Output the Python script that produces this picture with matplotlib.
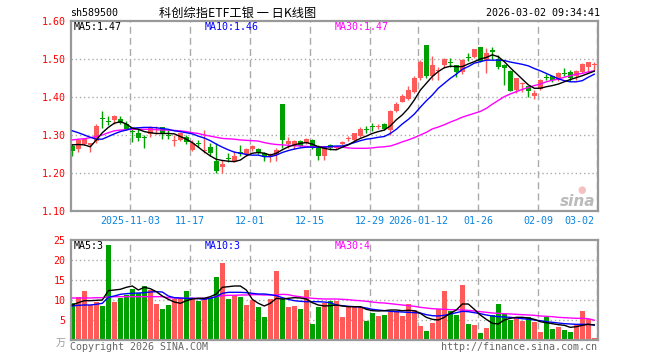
import matplotlib
matplotlib.use("Agg")
import matplotlib.pyplot as plt
import numpy as np

# ---------------- data ----------------
dates = [
    "2025-10-20", "2025-10-21", "2025-10-22", "2025-10-23", "2025-10-24", "2025-10-27", "2025-10-28", "2025-10-29", "2025-10-30", "2025-10-31",
    "2025-11-03", "2025-11-04", "2025-11-05", "2025-11-06", "2025-11-07", "2025-11-10", "2025-11-11", "2025-11-12", "2025-11-13", "2025-11-14",
    "2025-11-17", "2025-11-18", "2025-11-19", "2025-11-20", "2025-11-21", "2025-11-24", "2025-11-25", "2025-11-26", "2025-11-27", "2025-11-28",
    "2025-12-01", "2025-12-02", "2025-12-03", "2025-12-04", "2025-12-05", "2025-12-08", "2025-12-09", "2025-12-10", "2025-12-11", "2025-12-12",
    "2025-12-15", "2025-12-16", "2025-12-17", "2025-12-18", "2025-12-19", "2025-12-22", "2025-12-23", "2025-12-24", "2025-12-25", "2025-12-26",
    "2025-12-29", "2025-12-30", "2025-12-31", "2026-01-05", "2026-01-06", "2026-01-07", "2026-01-08", "2026-01-09",
    "2026-01-12", "2026-01-13", "2026-01-14", "2026-01-15", "2026-01-16", "2026-01-19", "2026-01-20", "2026-01-21", "2026-01-22", "2026-01-23",
    "2026-01-26", "2026-01-27", "2026-01-28", "2026-01-29", "2026-01-30", "2026-02-02", "2026-02-03", "2026-02-04", "2026-02-05", "2026-02-06",
    "2026-02-09", "2026-02-10", "2026-02-11", "2026-02-12", "2026-02-13", "2026-02-24", "2026-02-25", "2026-02-26", "2026-02-27", "2026-03-02",
]

open_ = [1.270, 1.263, 1.277, 1.275, 1.283, 1.343, 1.338, 1.340, 1.343, 1.328,
         1.311, 1.306, 1.293, 1.302, 1.312, 1.321, 1.300, 1.285, 1.288, 1.294,
         1.261, 1.279, 1.259, 1.268, 1.231, 1.215, 1.240, 1.232, 1.255, 1.248,
         1.263, 1.264, 1.253, 1.241, 1.248, 1.382, 1.277, 1.275, 1.284, 1.278,
         1.288, 1.266, 1.246, 1.275, 1.266, 1.276, 1.289, 1.287, 1.297, 1.315,
         1.322, 1.322, 1.329, 1.312, 1.364, 1.388, 1.395, 1.412,
         1.450, 1.537, 1.454, 1.468, 1.485, 1.490, 1.483, 1.466, 1.503, 1.505,
         1.531, 1.497, 1.524, 1.500, 1.485, 1.469, 1.418, 1.434, 1.428, 1.403,
         1.421, 1.452, 1.454, 1.444, 1.461, 1.466, 1.454, 1.466, 1.480, 1.484]
high = [1.277, 1.290, 1.291, 1.280, 1.328, 1.364, 1.350, 1.352, 1.351, 1.338,
        1.315, 1.316, 1.300, 1.324, 1.323, 1.321, 1.314, 1.299, 1.307, 1.301,
        1.287, 1.287, 1.314, 1.279, 1.280, 1.233, 1.252, 1.258, 1.275, 1.265,
        1.274, 1.266, 1.256, 1.253, 1.266, 1.382, 1.294, 1.287, 1.286, 1.293,
        1.289, 1.273, 1.272, 1.277, 1.272, 1.284, 1.297, 1.306, 1.320, 1.323,
        1.331, 1.330, 1.331, 1.366, 1.386, 1.407, 1.428, 1.454,
        1.497, 1.537, 1.507, 1.480, 1.503, 1.502, 1.485, 1.500, 1.517, 1.527,
        1.531, 1.530, 1.532, 1.510, 1.487, 1.470, 1.451, 1.440, 1.430, 1.418,
        1.448, 1.461, 1.456, 1.466, 1.476, 1.472, 1.472, 1.490, 1.492, 1.492]
low = [1.244, 1.256, 1.275, 1.254, 1.279, 1.319, 1.326, 1.329, 1.328, 1.313,
       1.282, 1.283, 1.265, 1.296, 1.302, 1.289, 1.290, 1.270, 1.285, 1.276,
       1.259, 1.268, 1.253, 1.246, 1.200, 1.200, 1.230, 1.230, 1.245, 1.246,
       1.257, 1.251, 1.232, 1.228, 1.232, 1.265, 1.267, 1.264, 1.268, 1.276,
       1.263, 1.234, 1.234, 1.261, 1.262, 1.274, 1.283, 1.285, 1.295, 1.304,
       1.311, 1.315, 1.313, 1.300, 1.360, 1.386, 1.392, 1.410,
       1.446, 1.450, 1.446, 1.445, 1.476, 1.478, 1.452, 1.460, 1.495, 1.503,
       1.493, 1.464, 1.500, 1.475, 1.432, 1.415, 1.410, 1.412, 1.399, 1.395,
       1.418, 1.446, 1.440, 1.441, 1.454, 1.443, 1.444, 1.464, 1.466, 1.472]
close = [1.257, 1.288, 1.289, 1.279, 1.324, 1.342, 1.333, 1.351, 1.332, 1.317,
         1.309, 1.291, 1.291, 1.320, 1.316, 1.305, 1.298, 1.287, 1.305, 1.281,
         1.278, 1.277, 1.261, 1.253, 1.204, 1.223, 1.238, 1.246, 1.249, 1.263,
         1.270, 1.253, 1.241, 1.250, 1.261, 1.288, 1.285, 1.285, 1.272, 1.290,
         1.266, 1.244, 1.272, 1.267, 1.268, 1.282, 1.291, 1.304, 1.317, 1.313,
         1.321, 1.324, 1.316, 1.363, 1.382, 1.403, 1.419, 1.450,
         1.491, 1.454, 1.485, 1.470, 1.500, 1.489, 1.465, 1.498, 1.502, 1.526,
         1.495, 1.515, 1.518, 1.478, 1.476, 1.417, 1.449, 1.436, 1.415, 1.411,
         1.445, 1.451, 1.445, 1.463, 1.460, 1.450, 1.468, 1.488, 1.491, 1.486]

ma5 = [1.274, 1.275, 1.274, 1.269, 1.287, 1.306, 1.320, 1.331, 1.335, 1.329,
       1.318, 1.315, 1.309, 1.306, 1.304, 1.304, 1.304, 1.303, 1.296, 1.289,
       1.280, 1.268, 1.256, 1.245, 1.236, 1.233, 1.231, 1.230, 1.234, 1.245,
       1.252, 1.254, 1.252, 1.247, 1.252, 1.261, 1.269, 1.274, 1.278, 1.280,
       1.276, 1.269, 1.265, 1.262, 1.261, 1.268, 1.274, 1.283, 1.291, 1.297,
       1.304, 1.309, 1.313, 1.324, 1.340, 1.353, 1.370, 1.392,
       1.418, 1.436, 1.454, 1.467, 1.477, 1.481, 1.480, 1.480, 1.487, 1.493,
       1.500, 1.504, 1.511, 1.506, 1.493, 1.477, 1.462, 1.447, 1.432, 1.423,
       1.423, 1.427, 1.430, 1.434, 1.440, 1.446, 1.451, 1.456, 1.462, 1.468]
ma10 = [1.311, 1.306, 1.300, 1.294, 1.289, 1.289, 1.296, 1.303, 1.309, 1.313,
        1.318, 1.319, 1.320, 1.320, 1.319, 1.317, 1.315, 1.311, 1.309, 1.306,
        1.303, 1.297, 1.292, 1.285, 1.276, 1.268, 1.261, 1.255, 1.252, 1.249,
        1.247, 1.247, 1.243, 1.243, 1.247, 1.254, 1.259, 1.263, 1.266, 1.268,
        1.268, 1.268, 1.268, 1.270, 1.271, 1.271, 1.275, 1.280, 1.285, 1.289,
        1.291, 1.294, 1.296, 1.304, 1.315, 1.329, 1.341, 1.355,
        1.373, 1.390, 1.405, 1.423, 1.436, 1.449, 1.460, 1.473, 1.480, 1.489,
        1.493, 1.497, 1.497, 1.497, 1.496, 1.492, 1.489, 1.486, 1.482, 1.475,
        1.469, 1.462, 1.455, 1.448, 1.443, 1.440, 1.440, 1.443, 1.452, 1.460]
ma30 = [1.287, 1.289, 1.290, 1.293, 1.296, 1.300, 1.306, 1.311, 1.313, 1.314,
        1.315, 1.315, 1.315, 1.315, 1.314, 1.313, 1.313, 1.312, 1.311, 1.309,
        1.306, 1.304, 1.300, 1.297, 1.294, 1.291, 1.290, 1.289, 1.287, 1.286,
        1.285, 1.284, 1.280, 1.277, 1.275, 1.274, 1.273, 1.272, 1.271, 1.270,
        1.269, 1.269, 1.269, 1.269, 1.269, 1.268, 1.266, 1.265, 1.265, 1.265,
        1.266, 1.268, 1.269, 1.271, 1.276, 1.282, 1.287, 1.293,
        1.300, 1.307, 1.316, 1.321, 1.327, 1.334, 1.340, 1.347, 1.352, 1.357,
        1.362, 1.370, 1.381, 1.391, 1.401, 1.408, 1.414, 1.420, 1.425, 1.430,
        1.434, 1.440, 1.444, 1.447, 1.452, 1.456, 1.460, 1.462, 1.466, 1.469]

volume = [9.3, 10.8, 12.25, 8.75, 9.6, 8.5, 23.75, 9.6, 10.4, 11.25,
          12.7, 11.7, 13.5, 12.5, 9.0, 7.75, 8.75, 10.2, 10.2, 12.25,
          10.4, 9.8, 10.4, 10.4, 15.8, 19.3, 10.25, 11.25, 10.8, 8.75,
          10.0, 8.3, 5.8, 10.25, 17.3, 10.2, 8.3, 8.5, 7.75, 12.5,
          4.0, 8.2, 9.3, 9.75, 9.8, 5.8, 8.3, 8.3, 8.3, 4.8,
          6.8, 6.0, 6.25, 7.1, 7.1, 6.0, 9.0, 7.5,
          3.5, 2.3, 4.3, 7.7, 12.25, 7.25, 6.25, 13.75, 4.0, 3.75,
          1.8, 3.1, 6.25, 9.0, 6.5, 5.0, 5.6, 4.8, 5.8, 4.6,
          2.1, 5.8, 2.75, 3.3, 2.5, 2.1, 3.75, 7.25, 5.2, 0.4]
vma5 = [8.75, 9.33, 9.83, 9.83, 9.92, 10.0, 12.33, 12.5, 12.67, 13.17,
        13.5, 12.5, 13.17, 12.83, 12.08, 11.0, 10.17, 9.5, 9.17, 9.83,
        10.25, 10.42, 10.42, 10.83, 11.5, 13.17, 13.33, 13.5, 13.5, 12.5,
        10.17, 9.17, 8.5, 9.17, 10.42, 10.25, 10.42, 10.58, 10.5, 10.25,
        9.33, 8.75, 8.5, 8.58, 8.75, 8.5, 8.33, 8.33, 8.33, 7.67,
        7.33, 7.25, 7.33, 7.5, 7.5, 7.33, 7.42, 7.33,
        6.67, 5.67, 5.17, 5.0, 5.67, 6.67, 7.5, 9.0, 9.0, 7.67,
        6.25, 5.17, 4.17, 4.0, 5.0, 5.42, 5.67, 5.67, 5.5, 5.17,
        4.58, 4.33, 4.08, 3.83, 3.67, 3.17, 3.33, 3.67, 3.92, 3.75]
vma10 = [8.5, 8.67, 8.75, 8.75, 8.92, 9.17, 10.67, 11.0, 11.42, 11.58,
         11.67, 11.75, 11.83, 12.0, 12.08, 12.0, 11.0, 10.58, 10.5, 10.42,
         10.42, 10.33, 10.17, 10.42, 10.83, 11.67, 11.92, 11.92, 11.92, 11.83,
         11.67, 11.5, 11.5, 11.33, 11.08, 10.58, 10.17, 9.83, 9.67, 9.58,
         9.58, 9.58, 9.5, 9.33, 8.75, 8.58, 8.42, 8.33, 8.25, 8.0,
         7.67, 7.5, 7.33, 7.17, 7.08, 7.0, 6.92, 6.83,
         6.75, 6.33, 6.08, 6.0, 6.17, 6.5, 6.83, 7.17, 7.08, 6.83,
         6.58, 6.25, 6.0, 5.83, 5.75, 5.67, 5.5, 5.33, 5.17, 5.0,
         4.83, 4.58, 4.42, 4.25, 4.08, 4.0, 3.92, 3.92, 3.92, 3.75]
vma30 = [10.5, 10.5, 10.5, 10.5, 10.58, 10.58, 10.75, 10.83, 10.83, 10.83,
         10.83, 10.83, 10.83, 10.83, 10.83, 10.83, 10.58, 10.5, 10.42, 10.42,
         10.42, 10.42, 10.42, 10.5, 10.83, 11.08, 11.17, 11.17, 11.25, 11.25,
         11.33, 11.33, 11.25, 11.25, 11.25, 11.42, 11.33, 11.0, 10.83, 10.58,
         10.42, 10.33, 10.25, 10.25, 10.25, 10.17, 10.08, 9.92, 9.83, 9.67,
         9.5, 9.33, 9.25, 9.08, 8.92, 8.75, 8.58, 8.42,
         8.17, 8.0, 7.83, 7.75, 7.67, 7.58, 7.58, 7.5, 7.42, 7.25,
         7.08, 6.92, 6.75, 6.67, 6.58, 6.5, 6.42, 6.33, 6.25, 6.17,
         6.0, 5.92, 5.83, 5.67, 5.58, 5.5, 5.42, 5.42, 5.33, 4.95]

tick_dates = ["2025-11-03", "2025-11-17", "2025-12-01", "2025-12-15", "2025-12-29",
              "2026-01-12", "2026-01-26", "2026-02-09", "2026-03-02"]
tick_labels = ["2025-11-03", "11-17", "12-01", "12-15", "12-29",
               "2026-01-12", "01-26", "02-09", "03-02"]
price_ticks = [1.10, 1.20, 1.30, 1.40, 1.50, 1.60]
vol_ticks = [5, 10, 15, 20, 25]

code = "sh589500"
title = "科创综指ETF工银 一 日K线图"
stamp = "2026-03-02 09:34:41"
ma_labels = ["MA5:1.47", "MA10:1.46", "MA30:1.47"]
vma_labels = ["MA5:3", "MA10:3", "MA30:4"]

# ---------------- style ----------------
W, H = 660, 360
RED = "#ff5a5a"
GREEN = "#00a000"
GRID = "#aaaaaa"
FRAME = "#999999"
XBLUE = "#0a84e0"
MONO = "DejaVu Sans Mono"
FS = 7.2

fig = plt.figure(figsize=(W / 100, H / 100), dpi=100)
fig.patch.set_facecolor("white")

def fx(px):
    return px / W

def fy(py):
    return 1 - py / H

L, R = 71, 598
ax = fig.add_axes([fx(L), fy(211), (R - L) / W, 190 / H])
axv = fig.add_axes([fx(L), fy(340), (R - L) / W, 100 / H])

n = len(close)
x = np.arange(n)
o = np.array(open_); c = np.array(close); hi = np.array(high); lo = np.array(low)
up = c >= o
cols = np.where(up, RED, GREEN)

xl = (-0.22, 87.62)
for a in (ax, axv):
    a.set_xlim(*xl)
    for s in a.spines.values():
        s.set_color(FRAME)
        s.set_linewidth(1.6)
    a.set_xticks([])
    a.tick_params(axis="y", length=0, pad=4)

ax.set_ylim(price_ticks[0], price_ticks[-1])
axv.set_ylim(0, vol_ticks[-1])

# gridlines
for yv in price_ticks[1:-1]:
    ax.axhline(yv, color=GRID, lw=1, ls=(0, (1, 2)), zorder=0)
for yv in vol_ticks[:-1]:
    axv.axhline(yv, color=GRID, lw=1, ls=(0, (1, 2)), zorder=0)
tick_pos = [dates.index(d) for d in tick_dates]
for k, p in enumerate(tick_pos):
    gx = p + 0.4 if k == len(tick_pos) - 1 else p - 0.35
    for a in (ax, axv):
        a.axvline(gx, color=GRID, lw=1, ls=(0, (5, 3)), zorder=0)
    if k == len(tick_pos) - 1:
        ax.text(p + 0.05, -0.053, tick_labels[k], transform=ax.get_xaxis_transform(),
                ha="right", va="center", color=XBLUE, family=MONO, fontsize=FS)
    else:
        ax.text(gx, -0.053, tick_labels[k], transform=ax.get_xaxis_transform(),
                ha="center", va="center", color=XBLUE, family=MONO, fontsize=FS)

# candles
body_w = 0.78
ax.vlines(x, lo, hi, colors=cols, lw=1, zorder=2)
bh = np.maximum(np.abs(c - o), 0.0026)
ax.bar(x, bh, bottom=np.minimum(o, c), width=body_w, color=cols, lw=0, zorder=3)

ax.plot(x, ma30, color="#ff00ff", lw=1, zorder=4)
ax.plot(x, ma10, color="#0000ff", lw=1, zorder=4)
ax.plot(x, ma5, color="black", lw=1, zorder=5)

# volume
axv.bar(x, volume, width=body_w, color=cols, lw=0, zorder=2)
axv.plot(x, vma30, color="#ff00ff", lw=1, zorder=4)
axv.plot(x, vma10, color="#0000ff", lw=1, zorder=4)
axv.plot(x, vma5, color="black", lw=1, zorder=5)

# y tick labels
ax.set_yticks(price_ticks)
ax.set_yticklabels([f"{v:.2f}" for v in price_ticks], color="red", family=MONO, fontsize=FS)
axv.set_yticks(vol_ticks)
axv.set_yticklabels([str(v) for v in vol_ticks], color="red", family=MONO, fontsize=FS)
fig.text(fx(66), fy(343), "万", ha="right", va="center", color="#999999",
         family=["Noto Sans CJK SC", "DejaVu Sans"], fontsize=FS)

# header
fig.text(fx(70), fy(13), code, ha="left", va="center", family=MONO, fontsize=FS, color="black")
fig.text(fx(238), fy(13), title, ha="center", va="center",
         family=["Noto Sans CJK SC", "DejaVu Sans"], fontsize=8.8, color="black")
fig.text(fx(600), fy(13), stamp, ha="right", va="center", family=MONO, fontsize=FS, color="black")

# MA legends
legend_cols = ["black", "#0000ff", "#ff00ff"]
legend_x = [74, 205, 335]
for lab, col, px in zip(ma_labels, legend_cols, legend_x):
    fig.text(fx(px), fy(27), lab, ha="left", va="center", family=MONO, fontsize=FS, color=col)
for lab, col, px in zip(vma_labels, legend_cols, legend_x):
    fig.text(fx(px), fy(246), lab, ha="left", va="center", family=MONO, fontsize=FS, color=col)

# footer
fig.text(fx(70), fy(347), "Copyright 2026 SINA.COM", ha="left", va="center",
         family=MONO, fontsize=FS, color="#666666")
fig.text(fx(597), fy(347), "http://finance.sina.com.cn", ha="right", va="center",
         family=MONO, fontsize=FS, color="#666666")

# watermark
fig.text(fx(578), fy(202), "sina", ha="center", va="center", fontsize=11,
         style="italic", weight="bold", color="#bbbbbb", family="DejaVu Sans")
fig.text(fx(582), fy(190), "●", ha="center", va="center", fontsize=7, color="#f4c0c0")

fig.savefig("out.png", dpi=100, facecolor="white")
